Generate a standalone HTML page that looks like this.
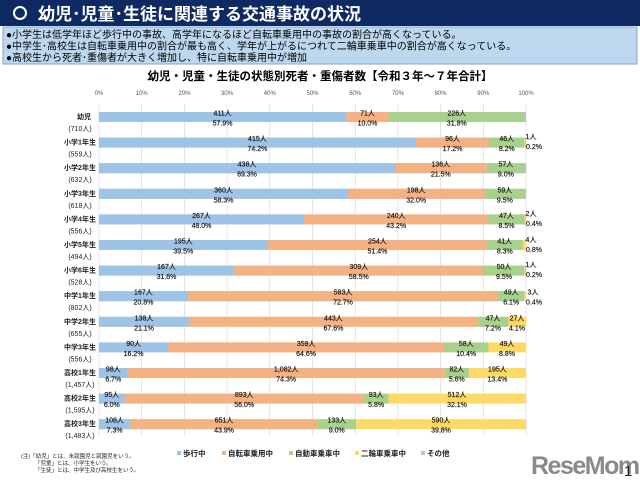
<!DOCTYPE html>
<html><head><meta charset="utf-8"><style>
body{margin:0;width:640px;height:480px;overflow:hidden;background:#fff;font-family:"Liberation Sans","Noto Sans CJK JP",sans-serif}
</style></head><body>
<svg width="640" height="480" xmlns="http://www.w3.org/2000/svg" font-family="Liberation Sans, Noto Sans CJK JP, sans-serif">
<rect x="0" y="0" width="640" height="26" fill="#0f2a62"/>
<circle cx="20" cy="13" r="6" fill="none" stroke="#fff" stroke-width="2"/>
<text x="38" y="20" font-size="17" font-weight="bold" fill="#fff">幼児･児童･生徒に関連する交通事故の状況</text>
<rect x="3" y="27" width="634" height="37" fill="#bdd7ee" stroke="#7fa7d0" stroke-width="1"/>
<text x="6" y="38" font-size="10" fill="#000">●小学生は低学年ほど歩行中の事故、高学年になるほど自転車乗用中の事故の割合が高くなっている。</text>
<text x="6" y="49.5" font-size="10" fill="#000">●中学生･高校生は自転車乗用中の割合が最も高く、学年が上がるにつれて二輪車乗車中の割合が高くなっている。</text>
<text x="6" y="61" font-size="10" fill="#000">●高校生から死者･重傷者が大きく増加し、特に自転車乗用中が増加</text>
<text x="320" y="80" font-size="11.5" font-weight="bold" text-anchor="middle">幼児・児童・生徒の状態別死者・重傷者数【令和３年～７年合計】</text>
<g font-size="6" fill="#555" text-anchor="middle">
<text x="99" y="95">0%</text><text x="141.7" y="95">10%</text><text x="184.4" y="95">20%</text><text x="227.1" y="95">30%</text><text x="269.8" y="95">40%</text><text x="312.5" y="95">50%</text><text x="355.2" y="95">60%</text><text x="397.9" y="95">70%</text><text x="440.6" y="95">80%</text><text x="483.3" y="95">90%</text><text x="526" y="95">100%</text>
</g>
<g stroke="#d9d9d9" stroke-width="0.7">
<line x1="99" y1="104" x2="99" y2="435"/><line x1="141.7" y1="104" x2="141.7" y2="435"/><line x1="184.4" y1="104" x2="184.4" y2="435"/><line x1="227.1" y1="104" x2="227.1" y2="435"/><line x1="269.8" y1="104" x2="269.8" y2="435"/><line x1="312.5" y1="104" x2="312.5" y2="435"/><line x1="355.2" y1="104" x2="355.2" y2="435"/><line x1="397.9" y1="104" x2="397.9" y2="435"/><line x1="440.6" y1="104" x2="440.6" y2="435"/><line x1="483.3" y1="104" x2="483.3" y2="435"/><line x1="526" y1="104" x2="526" y2="435"/>
</g>
<g>
<rect x="99" y="112" width="427" height="10" fill="#bfbfbf"/><rect x="99" y="112" width="247.2" height="10" fill="#9dc3e6"/><rect x="346.2" y="112" width="42.7" height="10" fill="#f4b183"/><rect x="388.9" y="112" width="135.8" height="10" fill="#a9d18e"/>
<rect x="99" y="137.6" width="427" height="10" fill="#bfbfbf"/><rect x="99" y="137.6" width="316.8" height="10" fill="#9dc3e6"/><rect x="415.8" y="137.6" width="73.5" height="10" fill="#f4b183"/><rect x="489.3" y="137.6" width="35" height="10" fill="#a9d18e"/><rect x="524.3" y="137.6" width="1" height="10" fill="#ffd966"/>
<rect x="99" y="163.2" width="427" height="10" fill="#bfbfbf"/><rect x="99" y="163.2" width="295.9" height="10" fill="#9dc3e6"/><rect x="394.9" y="163.2" width="91.8" height="10" fill="#f4b183"/><rect x="486.7" y="163.2" width="38.4" height="10" fill="#a9d18e"/>
<rect x="99" y="188.8" width="427" height="10" fill="#bfbfbf"/><rect x="99" y="188.8" width="248.9" height="10" fill="#9dc3e6"/><rect x="347.9" y="188.8" width="136.7" height="10" fill="#f4b183"/><rect x="484.6" y="188.8" width="40.6" height="10" fill="#a9d18e"/>
<rect x="99" y="214.4" width="427" height="10" fill="#bfbfbf"/><rect x="99" y="214.4" width="205" height="10" fill="#9dc3e6"/><rect x="304" y="214.4" width="184.4" height="10" fill="#f4b183"/><rect x="488.4" y="214.4" width="36.3" height="10" fill="#a9d18e"/><rect x="524.7" y="214.4" width="1.3" height="10" fill="#ffd966"/>
<rect x="99" y="240" width="427" height="10" fill="#bfbfbf"/><rect x="99" y="240" width="168.7" height="10" fill="#9dc3e6"/><rect x="267.7" y="240" width="219.4" height="10" fill="#f4b183"/><rect x="487.1" y="240" width="35.5" height="10" fill="#a9d18e"/><rect x="522.6" y="240" width="3.4" height="10" fill="#ffd966"/>
<rect x="99" y="265.6" width="427" height="10" fill="#bfbfbf"/><rect x="99" y="265.6" width="134.9" height="10" fill="#9dc3e6"/><rect x="233.9" y="265.6" width="249.8" height="10" fill="#f4b183"/><rect x="483.7" y="265.6" width="40.6" height="10" fill="#a9d18e"/><rect x="524.3" y="265.6" width="1" height="10" fill="#ffd966"/>
<rect x="99" y="291.2" width="427" height="10" fill="#bfbfbf"/><rect x="99" y="291.2" width="88.8" height="10" fill="#9dc3e6"/><rect x="187.8" y="291.2" width="310.4" height="10" fill="#f4b183"/><rect x="498.2" y="291.2" width="26" height="10" fill="#a9d18e"/><rect x="524.2" y="291.2" width="1.8" height="10" fill="#ffd966"/>
<rect x="99" y="316.8" width="427" height="10" fill="#ffd966"/><rect x="99" y="316.8" width="90.1" height="10" fill="#9dc3e6"/><rect x="189.1" y="316.8" width="288.6" height="10" fill="#f4b183"/><rect x="477.7" y="316.8" width="30.8" height="10" fill="#a9d18e"/>
<rect x="99" y="342.4" width="427" height="10" fill="#ffd966"/><rect x="99" y="342.4" width="69.2" height="10" fill="#9dc3e6"/><rect x="168.2" y="342.4" width="275.8" height="10" fill="#f4b183"/><rect x="444" y="342.4" width="44.4" height="10" fill="#a9d18e"/>
<rect x="99" y="368" width="427" height="10" fill="#ffd966"/><rect x="99" y="368" width="28.6" height="10" fill="#9dc3e6"/><rect x="127.6" y="368" width="317.3" height="10" fill="#f4b183"/><rect x="444.9" y="368" width="23.9" height="10" fill="#a9d18e"/>
<rect x="99" y="393.6" width="427" height="10" fill="#ffd966"/><rect x="99" y="393.6" width="25.6" height="10" fill="#9dc3e6"/><rect x="124.6" y="393.6" width="239.1" height="10" fill="#f4b183"/><rect x="363.7" y="393.6" width="24.8" height="10" fill="#a9d18e"/>
<rect x="99" y="419.2" width="427" height="10" fill="#ffd966"/><rect x="99" y="419.2" width="31.2" height="10" fill="#9dc3e6"/><rect x="130.2" y="419.2" width="187.4" height="10" fill="#f4b183"/><rect x="317.6" y="419.2" width="38.4" height="10" fill="#a9d18e"/>
</g>
<g font-size="7" fill="#111" text-anchor="middle" stroke="#111" stroke-width="0.15">
<text x="222.6" y="115.5">411人</text><text x="222.6" y="125.5">57.9%</text><text x="367.5" y="115.5">71人</text><text x="367.5" y="125.5">10.0%</text><text x="456.8" y="115.5">226人</text><text x="456.8" y="125.5">31.8%</text>
<text x="257.4" y="141.1">415人</text><text x="257.4" y="151.1">74.2%</text><text x="452.5" y="141.1">96人</text><text x="452.5" y="151.1">17.2%</text><text x="506.8" y="141.1">46人</text><text x="506.8" y="151.1">8.2%</text><text x="531" y="139">1人</text><text x="534" y="149">0.2%</text>
<text x="247" y="166.7">438人</text><text x="247" y="176.7">69.3%</text><text x="440.8" y="166.7">136人</text><text x="440.8" y="176.7">21.5%</text><text x="505.9" y="166.7">57人</text><text x="505.9" y="176.7">9.0%</text>
<text x="223.5" y="192.3">360人</text><text x="223.5" y="202.3">58.3%</text><text x="416.2" y="192.3">198人</text><text x="416.2" y="202.3">32.0%</text><text x="504.9" y="192.3">59人</text><text x="504.9" y="202.3">9.5%</text>
<text x="201.5" y="217.9">267人</text><text x="201.5" y="227.9">48.0%</text><text x="396.2" y="217.9">240人</text><text x="396.2" y="227.9">43.2%</text><text x="506.5" y="217.9">47人</text><text x="506.5" y="227.9">8.5%</text><text x="531" y="216">2人</text><text x="534" y="226">0.4%</text>
<text x="183.3" y="243.5">195人</text><text x="183.3" y="253.5">39.5%</text><text x="377.4" y="243.5">254人</text><text x="377.4" y="253.5">51.4%</text><text x="504.8" y="243.5">41人</text><text x="504.8" y="253.5">8.3%</text><text x="531" y="242">4人</text><text x="534" y="252">0.8%</text>
<text x="166.5" y="269.1">167人</text><text x="166.5" y="279.1">31.6%</text><text x="358.8" y="269.1">309人</text><text x="358.8" y="279.1">58.5%</text><text x="504" y="269.1">50人</text><text x="504" y="279.1">9.5%</text><text x="531" y="267">1人</text><text x="534" y="277">0.2%</text>
<text x="143.4" y="294.7">167人</text><text x="143.4" y="304.7">20.8%</text><text x="343" y="294.7">583人</text><text x="343" y="304.7">72.7%</text><text x="511.2" y="294.7">49人</text><text x="511.2" y="304.7">6.1%</text><text x="533" y="294.7">3人</text><text x="534" y="304.7">0.4%</text>
<text x="144" y="320.3">138人</text><text x="144" y="330.3">21.1%</text><text x="333.4" y="320.3">443人</text><text x="333.4" y="330.3">67.6%</text><text x="493" y="320.3">47人</text><text x="493" y="330.3">7.2%</text><text x="517" y="320.3">27人</text><text x="517" y="330.3">4.1%</text>
<text x="133.6" y="345.9">90人</text><text x="133.6" y="355.9">16.2%</text><text x="306.1" y="345.9">359人</text><text x="306.1" y="355.9">64.6%</text><text x="466.2" y="345.9">58人</text><text x="466.2" y="355.9">10.4%</text><text x="507" y="345.9">49人</text><text x="507" y="355.9">8.8%</text>
<text x="113.3" y="371.5">98人</text><text x="113.3" y="381.5">6.7%</text><text x="286.2" y="371.5">1,082人</text><text x="286.2" y="381.5">74.3%</text><text x="456.8" y="371.5">82人</text><text x="456.8" y="381.5">5.6%</text><text x="497.4" y="371.5">195人</text><text x="497.4" y="381.5">13.4%</text>
<text x="111.8" y="397.1">95人</text><text x="111.8" y="407.1">6.0%</text><text x="244.2" y="397.1">893人</text><text x="244.2" y="407.1">56.0%</text><text x="376.1" y="397.1">93人</text><text x="376.1" y="407.1">5.8%</text><text x="457" y="397.1">512人</text><text x="457" y="407.1">32.1%</text>
<text x="114.6" y="422.7">108人</text><text x="114.6" y="432.7">7.3%</text><text x="224" y="422.7">651人</text><text x="224" y="432.7">43.9%</text><text x="336.8" y="422.7">133人</text><text x="336.8" y="432.7">9.0%</text><text x="441" y="422.7">590人</text><text x="441" y="432.7">39.8%</text>
</g>
<g font-size="7" fill="#222" text-anchor="middle">
<g font-weight="bold">
<text x="84" y="119">幼児</text><text x="80" y="144.6">小学1年生</text><text x="80" y="170.2">小学2年生</text><text x="80" y="195.8">小学3年生</text><text x="80" y="221.4">小学4年生</text><text x="80" y="247">小学5年生</text><text x="80" y="272.6">小学6年生</text><text x="80" y="298.2">中学1年生</text><text x="80" y="323.8">中学2年生</text><text x="80" y="349.4">中学3年生</text><text x="80" y="375">高校1年生</text><text x="80" y="400.6">高校2年生</text><text x="80" y="426.2">高校3年生</text>
</g>
<text x="80" y="131">(710人)</text><text x="80" y="156.6">(559人)</text><text x="80" y="182.2">(632人)</text><text x="80" y="207.8">(618人)</text><text x="80" y="233.4">(556人)</text><text x="80" y="259">(494人)</text><text x="80" y="284.6">(528人)</text><text x="80" y="310.2">(802人)</text><text x="80" y="335.8">(655人)</text><text x="80" y="361.4">(556人)</text><text x="80" y="387">(1,457人)</text><text x="80" y="412.6">(1,595人)</text><text x="80" y="438.2">(1,483人)</text>
</g>
<g font-size="7.5" fill="#222" font-weight="bold">
<rect x="177" y="451" width="4" height="4" fill="#9dc3e6"/><text x="183" y="456">歩行中</text>
<rect x="222" y="451" width="4" height="4" fill="#f4b183"/><text x="228" y="456">自転車乗用中</text>
<rect x="289" y="451" width="4" height="4" fill="#a9d18e"/><text x="295" y="456">自動車乗車中</text>
<rect x="355" y="451" width="4" height="4" fill="#ffd966"/><text x="361" y="456">二輪車乗車中</text>
<rect x="421" y="451" width="4" height="4" fill="#bfbfbf"/><text x="427" y="456">その他</text>
</g>
<g font-size="5.5" fill="#222">
<text x="21" y="458">(注)「幼児」とは、未就園児と就園児をいう。</text>
<text x="35" y="465">「児童」とは、小学生をいう。</text>
<text x="35" y="472">「生徒」とは、中学生及び高校生をいう。</text>
</g>
<text x="531" y="474" font-size="25" font-weight="bold" fill="#8a8a8a" letter-spacing="-1.5">ReseMom</text>
<text x="624" y="476" font-size="15" fill="#222">1</text>
</svg>
</body></html>
